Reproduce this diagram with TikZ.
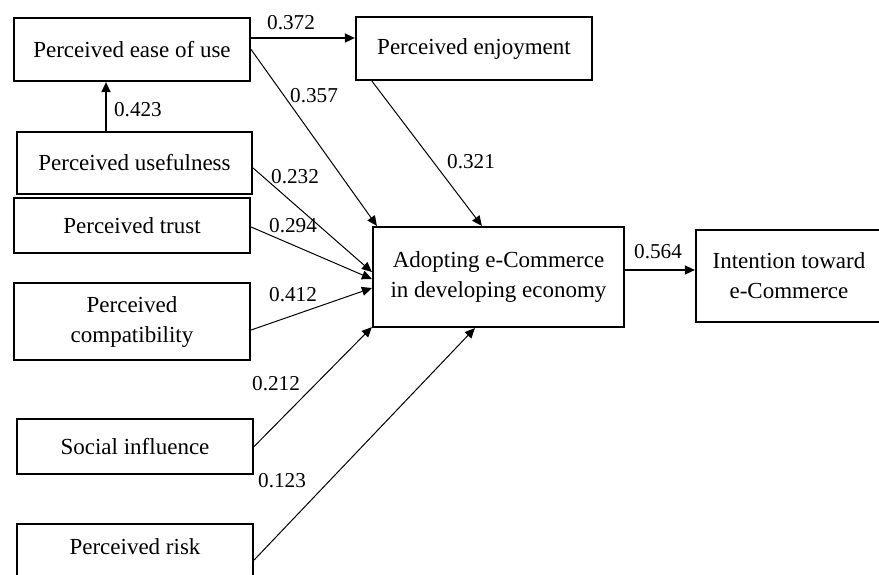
\documentclass[tikz,border=0pt]{standalone}
\usepackage{fontspec}
\setmainfont{Liberation Serif}
\usetikzlibrary{arrows.meta,calc}
\tikzset{
  box/.style={draw, line width=1.1pt, inner sep=0pt, align=center,
    font=\fontsize{11.5pt}{15pt}\selectfont},
  lab/.style={inner sep=0pt, font=\fontsize{10.6pt}{13pt}\selectfont},
  arr/.style={line width=0.5pt, -{Triangle[length=5pt,width=4.5pt]}},
  harr/.style={line width=0.8pt, -{Triangle[length=5pt,width=4.5pt]}}
}
\begin{document}
\begin{tikzpicture}[x=0.5pt, y=-0.5pt]
\clip (0,0) rectangle (879,574);
\fill[white] (0,0) rectangle (879,574);
% boxes
\node[box, minimum width=118pt, minimum height=31.5pt] (ease) at (132,49.5) {Perceived ease of use};
\node[box, minimum width=118pt, minimum height=31.5pt] (enjoy) at (474,48.5) {Perceived enjoyment};
\node[box, minimum width=117.5pt, minimum height=31pt] (useful) at (134.5,163) {Perceived usefulness};
\node[box, minimum width=118pt, minimum height=27.5pt] (trust) at (132,225.5) {Perceived trust};
\node[box, minimum width=118pt, minimum height=38.5pt] (compat) at (132,321.5) {Perceived\\compatibility};
\node[box, minimum width=118pt, minimum height=27.5pt] (social) at (135,446.5) {Social influence};
\node[box, minimum width=118pt, minimum height=32pt] (risk) at (135,556) {\raisebox{9pt}{Perceived risk}};
\node[box, minimum width=125.5pt, minimum height=50pt] (adopt) at (498.5,277) {Adopting e-Commerce\\in developing economy};
\node[box, minimum width=93pt, minimum height=46pt] (intent) at (789,276) {Intention toward\\e-Commerce};
% connectors
\draw[harr] ($(useful.north)+(-28.5,0)$) coordinate (c1) -- (c1 |- ease.south);
\draw[harr] ($(ease.east)+(0,-11.5)$) coordinate (c2) -- (c2 -| enjoy.west);
\draw[arr] (ease.east) -- ($(adopt.north west)+(5,0)$);
\draw[arr] ($(enjoy.south west)+(17,0)$) -- ($(adopt.north west)+(110,0)$);
\draw[arr] ($(useful.east)+(0,5)$) -- ($(adopt.west)+(0,-5)$);
\draw[arr] ($(trust.east)+(0,1.5)$) -- ($(adopt.west)+(0,2)$);
\draw[arr] ($(compat.east)+(0,8.5)$) -- ($(adopt.west)+(0,11)$);
\draw[arr] (social.east) -- ($(adopt.south west)+(0,-1)$);
\draw[arr] ($(risk.east)+(0,4)$) -- ($(adopt.south west)+(103,0)$);
\draw[harr] ($(adopt.east)+(0,-7)$) coordinate (c10) -- (c10 -| intent.west);
% labels
\node[lab] (l1) at (138,110) {0.423};
\node[lab] (l2) at (291,23) {0.372};
\node[lab] (l3) at (314,96) {0.357};
\node[lab] (l4) at (471,162) {0.321};
\node[lab] (l5) at (295,177) {0.232};
\node[lab] (l6) at (293,226) {0.294};
\node[lab] (l7) at (293,295) {0.412};
\node[lab] (l8) at (276,384) {0.212};
\node[lab] (l9) at (282,481) {0.123};
\node[lab] (l10) at (658,252) {0.564};
\end{tikzpicture}
\end{document}
